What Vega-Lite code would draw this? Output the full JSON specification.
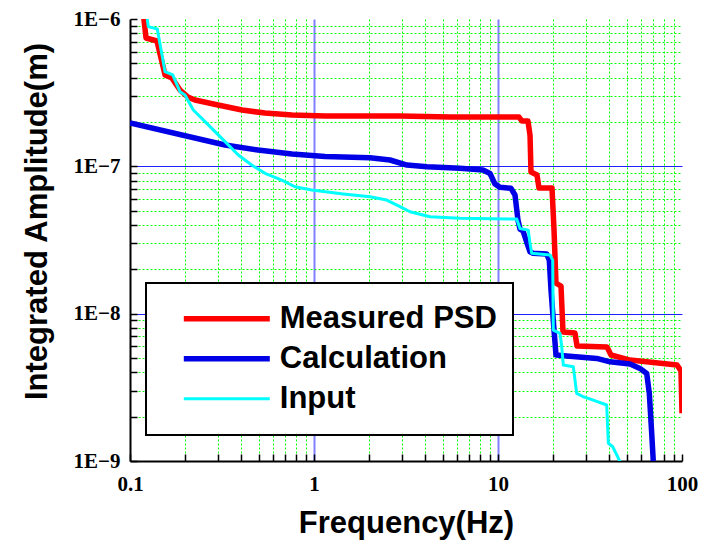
{
  "$schema": "https://vega.github.io/schema/vega-lite/v6.json",
  "width": 552,
  "height": 442,
  "autosize": {"type": "none"},
  "padding": {"left": 130, "top": 19, "right": 29, "bottom": 79},
  "background": "white",
  "config": {
    "view": {"stroke": null},
    "legend": {"strokeWidth": 2}
  },
  "data": {
    "values": [
      {"series": "Measured PSD", "f": 0.1185, "amp": 1.05e-6},
      {"series": "Measured PSD", "f": 0.1222, "amp": 7.43e-7},
      {"series": "Measured PSD", "f": 0.1402, "amp": 7.09e-7},
      {"series": "Measured PSD", "f": 0.155, "amp": 4.17e-7},
      {"series": "Measured PSD", "f": 0.1692, "amp": 3.97e-7},
      {"series": "Measured PSD", "f": 0.1869, "amp": 3.30e-7},
      {"series": "Measured PSD", "f": 0.2066, "amp": 2.95e-7},
      {"series": "Measured PSD", "f": 0.2256, "amp": 2.82e-7},
      {"series": "Measured PSD", "f": 0.3008, "amp": 2.61e-7},
      {"series": "Measured PSD", "f": 0.4062, "amp": 2.41e-7},
      {"series": "Measured PSD", "f": 0.5418, "amp": 2.30e-7},
      {"series": "Measured PSD", "f": 0.7593, "amp": 2.23e-7},
      {"series": "Measured PSD", "f": 1.148, "amp": 2.20e-7},
      {"series": "Measured PSD", "f": 2.934, "amp": 2.20e-7},
      {"series": "Measured PSD", "f": 5.484, "amp": 2.16e-7},
      {"series": "Measured PSD", "f": 13.01, "amp": 2.16e-7},
      {"series": "Measured PSD", "f": 13.5, "amp": 2.03e-7},
      {"series": "Measured PSD", "f": 14.55, "amp": 2.03e-7},
      {"series": "Measured PSD", "f": 14.93, "amp": 1.63e-7},
      {"series": "Measured PSD", "f": 15.11, "amp": 9.15e-8},
      {"series": "Measured PSD", "f": 16.29, "amp": 8.73e-8},
      {"series": "Measured PSD", "f": 16.7, "amp": 7.12e-8},
      {"series": "Measured PSD", "f": 19.66, "amp": 7.12e-8},
      {"series": "Measured PSD", "f": 20.16, "amp": 3.69e-8},
      {"series": "Measured PSD", "f": 20.66, "amp": 1.61e-8},
      {"series": "Measured PSD", "f": 22.0, "amp": 1.54e-8},
      {"series": "Measured PSD", "f": 22.56, "amp": 7.50e-9},
      {"series": "Measured PSD", "f": 26.21, "amp": 7.38e-9},
      {"series": "Measured PSD", "f": 26.88, "amp": 6.03e-9},
      {"series": "Measured PSD", "f": 39.12, "amp": 5.93e-9},
      {"series": "Measured PSD", "f": 41.13, "amp": 5.24e-9},
      {"series": "Measured PSD", "f": 52.18, "amp": 4.84e-9},
      {"series": "Measured PSD", "f": 93.93, "amp": 4.48e-9},
      {"series": "Measured PSD", "f": 98.76, "amp": 4.08e-9},
      {"series": "Measured PSD", "f": 100, "amp": 2.11e-9},

      {"series": "Calculation", "f": 0.1, "amp": 1.968e-7},
      {"series": "Calculation", "f": 0.3285, "amp": 1.395e-7},
      {"series": "Calculation", "f": 0.4962, "amp": 1.29e-7},
      {"series": "Calculation", "f": 0.7593, "amp": 1.212e-7},
      {"series": "Calculation", "f": 1.148, "amp": 1.165e-7},
      {"series": "Calculation", "f": 2.015, "amp": 1.144e-7},
      {"series": "Calculation", "f": 2.588, "amp": 1.104e-7},
      {"series": "Calculation", "f": 3.202, "amp": 1.02e-7},
      {"series": "Calculation", "f": 4.113, "amp": 9.94e-8},
      {"series": "Calculation", "f": 6.216, "amp": 9.69e-8},
      {"series": "Calculation", "f": 8.288, "amp": 9.44e-8},
      {"series": "Calculation", "f": 9.049, "amp": 8.94e-8},
      {"series": "Calculation", "f": 9.631, "amp": 7.58e-8},
      {"series": "Calculation", "f": 10.25, "amp": 7.20e-8},
      {"series": "Calculation", "f": 11.77, "amp": 7.09e-8},
      {"series": "Calculation", "f": 12.37, "amp": 6.39e-8},
      {"series": "Calculation", "f": 12.84, "amp": 4.32e-8},
      {"series": "Calculation", "f": 13.17, "amp": 3.75e-8},
      {"series": "Calculation", "f": 13.68, "amp": 3.64e-8},
      {"series": "Calculation", "f": 14.38, "amp": 3.01e-8},
      {"series": "Calculation", "f": 14.93, "amp": 2.63e-8},
      {"series": "Calculation", "f": 15.49, "amp": 2.57e-8},
      {"series": "Calculation", "f": 18.4, "amp": 2.54e-8},
      {"series": "Calculation", "f": 19.0, "amp": 2.31e-8},
      {"series": "Calculation", "f": 19.41, "amp": 1.45e-8},
      {"series": "Calculation", "f": 20.16, "amp": 7.74e-9},
      {"series": "Calculation", "f": 20.66, "amp": 5.24e-9},
      {"series": "Calculation", "f": 23.63, "amp": 5.16e-9},
      {"series": "Calculation", "f": 34.39, "amp": 4.97e-9},
      {"series": "Calculation", "f": 40.62, "amp": 4.71e-9},
      {"series": "Calculation", "f": 52.18, "amp": 4.55e-9},
      {"series": "Calculation", "f": 59.1, "amp": 4.25e-9},
      {"series": "Calculation", "f": 64.3, "amp": 3.93e-9},
      {"series": "Calculation", "f": 66.43, "amp": 2.88e-9},
      {"series": "Calculation", "f": 68.45, "amp": 1.54e-9},
      {"series": "Calculation", "f": 69.8, "amp": 1.0e-9},
      {"series": "Calculation", "f": 70.5, "amp": 8.7e-10},

      {"series": "Input", "f": 0.1233, "amp": 1.065e-6},
      {"series": "Input", "f": 0.1257, "amp": 8.87e-7},
      {"series": "Input", "f": 0.1407, "amp": 8.55e-7},
      {"series": "Input", "f": 0.155, "amp": 4.39e-7},
      {"series": "Input", "f": 0.1707, "amp": 4.17e-7},
      {"series": "Input", "f": 0.1869, "amp": 3.21e-7},
      {"series": "Input", "f": 0.199, "amp": 3.05e-7},
      {"series": "Input", "f": 0.2208, "amp": 2.41e-7},
      {"series": "Input", "f": 0.2557, "amp": 2.01e-7},
      {"series": "Input", "f": 0.2897, "amp": 1.72e-7},
      {"series": "Input", "f": 0.3285, "amp": 1.47e-7},
      {"series": "Input", "f": 0.3878, "amp": 1.193e-7},
      {"series": "Input", "f": 0.4585, "amp": 1.02e-7},
      {"series": "Input", "f": 0.5418, "amp": 8.97e-8},
      {"series": "Input", "f": 0.6675, "amp": 8.07e-8},
      {"series": "Input", "f": 0.788, "amp": 7.27e-8},
      {"series": "Input", "f": 0.9716, "amp": 6.90e-8},
      {"series": "Input", "f": 1.443, "amp": 6.49e-8},
      {"series": "Input", "f": 2.015, "amp": 6.22e-8},
      {"series": "Input", "f": 2.484, "amp": 5.90e-8},
      {"series": "Input", "f": 2.934, "amp": 5.32e-8},
      {"series": "Input", "f": 3.325, "amp": 4.92e-8},
      {"series": "Input", "f": 4.27, "amp": 4.55e-8},
      {"series": "Input", "f": 6.216, "amp": 4.44e-8},
      {"series": "Input", "f": 12.64, "amp": 4.39e-8},
      {"series": "Input", "f": 13.17, "amp": 3.79e-8},
      {"series": "Input", "f": 14.6, "amp": 3.69e-8},
      {"series": "Input", "f": 14.93, "amp": 3.00e-8},
      {"series": "Input", "f": 15.25, "amp": 2.57e-8},
      {"series": "Input", "f": 19.17, "amp": 2.50e-8},
      {"series": "Input", "f": 19.83, "amp": 2.31e-8},
      {"series": "Input", "f": 19.98, "amp": 7.74e-9},
      {"series": "Input", "f": 21.73, "amp": 7.35e-9},
      {"series": "Input", "f": 22.2, "amp": 5.96e-9},
      {"series": "Input", "f": 22.64, "amp": 4.48e-9},
      {"series": "Input", "f": 25.66, "amp": 4.36e-9},
      {"series": "Input", "f": 26.77, "amp": 2.88e-9},
      {"series": "Input", "f": 29.08, "amp": 2.73e-9},
      {"series": "Input", "f": 30.96, "amp": 2.66e-9},
      {"series": "Input", "f": 38.97, "amp": 2.40e-9},
      {"series": "Input", "f": 39.77, "amp": 1.32e-9},
      {"series": "Input", "f": 42.02, "amp": 1.25e-9},
      {"series": "Input", "f": 45.62, "amp": 1.014e-9},
      {"series": "Input", "f": 47.8, "amp": 8.95e-10}
    ]
  },
  "mark": {"type": "line", "clip": true, "strokeJoin": "round"},
  "encoding": {
    "x": {
      "field": "f",
      "type": "quantitative",
      "scale": {"type": "log", "domain": [0.1, 100], "nice": false},
      "axis": {
        "values": [0.1, 0.2, 0.3, 0.4, 0.5, 0.6, 0.7, 0.8, 0.9, 1, 2, 3, 4, 5, 6, 7, 8, 9, 10, 20, 30, 40, 50, 60, 70, 80, 90, 100],
        "format": "~g",
        "labelExpr": "abs(log(datum.value)/LN10 - round(log(datum.value)/LN10)) < 0.001 ? datum.label : ''",
        "labelFont": "Liberation Serif",
        "labelFontWeight": "bold",
        "labelFontSize": 21,
        "labelColor": "black",
        "labelBaseline": "alphabetic",
        "labelPadding": 36,
        "labelFlush": false,
        "labelOverlap": false,
        "grid": true,
        "gridColor": {"condition": {"test": "abs(log(datum.value)/LN10 - round(log(datum.value)/LN10)) < 0.001", "value": "#8080ff"}, "value": "#00ff00"},
        "gridDash": {"condition": {"test": "abs(log(datum.value)/LN10 - round(log(datum.value)/LN10)) < 0.001", "value": []}, "value": [2, 2]},
        "gridWidth": {"condition": {"test": "abs(log(datum.value)/LN10 - round(log(datum.value)/LN10)) < 0.001", "value": 2}, "value": 1},
        "gridOpacity": {"condition": {"test": "datum.value < 0.11 || datum.value > 95", "value": 0}, "value": 1},
        "ticks": true,
        "tickSize": -7,
        "tickColor": "black",
        "tickWidth": 1.5,
        "domainColor": "black",
        "domainWidth": 2,
        "title": "Frequency(Hz)",
        "titleFont": "Liberation Sans",
        "titleFontSize": 31,
        "titleFontWeight": "bold",
        "titleColor": "black",
        "titleBaseline": "alphabetic",
        "titleY": 71,
        "titleX": 276
      }
    },
    "y": {
      "field": "amp",
      "type": "quantitative",
      "scale": {"type": "log", "domain": [1e-9, 1e-6], "nice": false},
      "axis": {
        "values": [1e-9, 2e-9, 3e-9, 4e-9, 5e-9, 6e-9, 7e-9, 8e-9, 9e-9, 1e-8, 2e-8, 3e-8, 4e-8, 5e-8, 6e-8, 7e-8, 8e-8, 9e-8, 1e-7, 2e-7, 3e-7, 4e-7, 5e-7, 6e-7, 7e-7, 8e-7, 9e-7, 1e-6],
        "labelExpr": "abs(log(datum.value)/LN10 - round(log(datum.value)/LN10)) < 0.001 ? '1E−' + round(-log(datum.value)/LN10) : ''",
        "labelFont": "Liberation Serif",
        "labelFontWeight": "bold",
        "labelFontSize": 21,
        "labelColor": "black",
        "labelPadding": 17,
        "labelFlush": false,
        "labelOverlap": false,
        "grid": true,
        "gridColor": {"condition": {"test": "abs(log(datum.value)/LN10 - round(log(datum.value)/LN10)) < 0.001", "value": "#2020ff"}, "value": "#00ff00"},
        "gridDash": {"condition": {"test": "abs(log(datum.value)/LN10 - round(log(datum.value)/LN10)) < 0.001", "value": []}, "value": [2, 2]},
        "gridWidth": 1,
        "gridOpacity": {"condition": {"test": "datum.value > 9.5e-7 || datum.value < 1.05e-9", "value": 0}, "value": 1},
        "ticks": true,
        "tickSize": -7,
        "tickColor": "black",
        "tickWidth": 1.5,
        "domainColor": "black",
        "domainWidth": 2,
        "title": "Integrated Amplitude(m)",
        "titleFont": "Liberation Sans",
        "titleFontSize": 31,
        "titleFontWeight": "bold",
        "titleColor": "black",
        "titleBaseline": "alphabetic",
        "titleAngle": 270,
        "titleX": -84,
        "titleY": 202
      }
    },
    "color": {
      "field": "series",
      "type": "nominal",
      "sort": null,
      "scale": {"domain": ["Measured PSD", "Calculation", "Input"], "range": ["#ff0000", "#0000e6", "#00ffff"]},
      "legend": {
        "orient": "none",
        "legendX": 16,
        "legendY": 264,
        "title": null,
        "symbolType": "stroke",
        "symbolSize": 7396,
        "symbolStrokeWidth": 5,
        "symbolOffset": 18.8,
        "labelOffset": 7,
        "labelFont": "Liberation Sans",
        "labelFontSize": 31,
        "labelFontWeight": "bold",
        "labelColor": "black",
        "labelLimit": 400,
        "clipHeight": 39.5,
        "rowPadding": 0,
        "padding": 16,
        "strokeColor": "black",
        "fillColor": "white"
      }
    },
    "strokeWidth": {
      "field": "series",
      "type": "nominal",
      "scale": {"type": "ordinal", "domain": ["Measured PSD", "Calculation", "Input"], "range": [5.5, 5.5, 3]},
      "legend": null
    }
  }
}
